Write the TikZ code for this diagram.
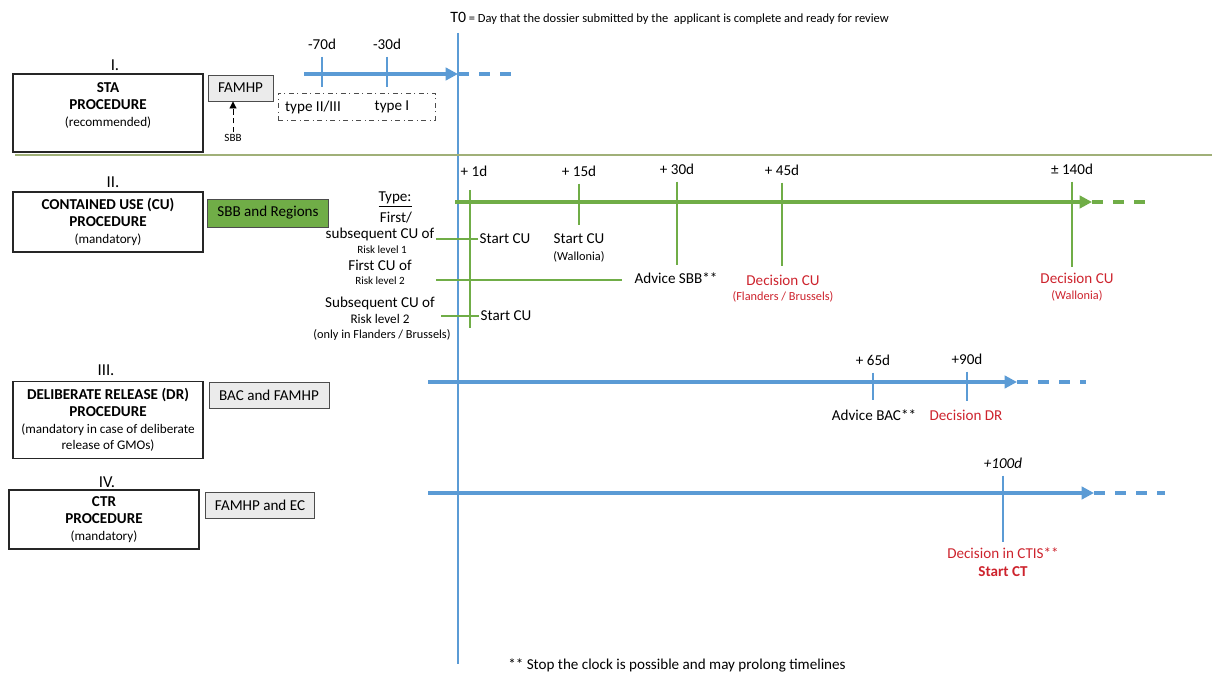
\documentclass[tikz,border=0pt]{standalone}
\usepackage{fontspec}
\setmainfont{Carlito}
\usetikzlibrary{arrows.meta}
\definecolor{lineblue}{RGB}{91,155,213}
\definecolor{cugreen}{RGB}{112,173,71}
\definecolor{decred}{RGB}{205,35,45}
\definecolor{sepgreen}{RGB}{160,176,120}
\begin{document}
\begin{tikzpicture}[x=0.02cm,y=-0.02cm,
  proc box/.style={draw=black!85,line width=0.6pt,align=center,minimum width=3.8cm,inner sep=1pt,font=\fontsize{8.6}{9.6}\selectfont},
  org box/.style={draw=black!70,line width=0.5pt,fill=black!8,minimum height=0.52cm,inner sep=0pt,font=\fontsize{8.6}{9.6}\selectfont},
  lbl/.style={inner sep=1pt,font=\fontsize{8.6}{10}\selectfont},
  small lbl/.style={inner sep=1pt,font=\fontsize{7}{8}\selectfont},
  tiny lbl/.style={inner sep=1pt,font=\fontsize{6.3}{7}\selectfont},
  num lbl/.style={inner sep=1pt,font=\fontsize{9.5}{10}\selectfont},
  red lbl/.style={text=decred},
  blue arrow/.style={lineblue,line width=2.3pt,-{Triangle[length=7pt,width=7pt]}},
  blue dash/.style={lineblue,line width=2.3pt,dash pattern=on 6pt off 6pt},
  green arrow/.style={cugreen,line width=2pt,-{Triangle[length=7pt,width=7pt]}},
  green dash/.style={cugreen,line width=2pt,dash pattern=on 6pt off 6pt},
  blue tick/.style={lineblue,line width=0.6pt,shorten <=3pt,shorten >=3pt},
  green tick/.style={cugreen,line width=0.6pt,shorten <=3pt,shorten >=3pt},
  green thin/.style={cugreen,line width=0.6pt}]

  \useasboundingbox (0,0) rectangle (1212,675);

  \node[anchor=west,inner sep=0pt,font=\fontsize{7.1}{8}\selectfont] (t0) at (450,18)
    {{\fontsize{9}{10}\selectfont T0} = Day that the dossier submitted by the\ \ applicant is complete and ready for review};
  \coordinate (t0top) at (458,33);
  \coordinate (t0bot) at (458,664);
  \draw[lineblue,line width=1.2pt] (t0top) -- (t0bot);

  \coordinate (sepL) at (15,155);
  \coordinate (sepR) at (1212,155);
  \draw[sepgreen,line width=0.8pt] (sepL) -- (sepR);

  % I. STA
  \node[num lbl] (numI) at (115,65) {I.};
  \node[proc box,minimum height=1.56cm] (sta) at (108,113)
    {\textbf{STA}\\\textbf{PROCEDURE}\\{\fontsize{7.5}{9.6}\selectfont(recommended)}\\\phantom{x}};
  \node[org box,minimum width=1.3cm] (famhp) at (240.5,88) {FAMHP};
  \node[tiny lbl] (sbb) at (233,138) {SBB};
  \draw[densely dashed,line width=0.5pt,-{Triangle[length=4pt,width=4pt]}] (sbb.north) -- (sbb.north |- famhp.south);

  \coordinate (staS) at (304,74);
  \coordinate (staE) at (458,74);
  \coordinate (staD) at (518,74);
  \draw[blue arrow] (staS) -- (staE);
  \draw[blue dash] (staE) -- (staD);

  \node[lbl] (m70) at (322,44) {-70d};
  \node[lbl] (m30) at (387,44) {-30d};
  \coordinate (m70b) at (322,87);
  \coordinate (m30b) at (387,87);
  \draw[blue tick,shorten >=0pt] (m70.south) -- (m70b);
  \draw[blue tick,shorten >=0pt] (m30.south) -- (m30b);

  \node[draw=black!70,dash dot,line width=0.5pt,minimum width=3.14cm,minimum height=0.54cm] (typebox) at (356.5,106.5) {};
  \node[lbl] (t23) at (313,107) {type II/III};
  \node[lbl] (t1) at (392,107) {type I};

  % II. CU
  \node[num lbl] (numII) at (113,182) {II.};
  \node[proc box,minimum height=1.2cm] (cu) at (108,222)
    {\textbf{CONTAINED USE (CU)}\\\textbf{PROCEDURE}\\{\fontsize{7.5}{9.6}\selectfont(mandatory)}};
  \node[org box,fill=cugreen,minimum width=2.42cm,minimum height=0.56cm] (sbbreg) at (268,213) {SBB and Regions};

  \node[lbl] (type) at (395,200) {\underline{Type:}};
  \node[lbl] (first) at (396,218) {First/};
  \node[lbl] (subs) at (380,234) {subsequent CU of};
  \node[tiny lbl] (rl1) at (382,250) {Risk level 1};
  \node[lbl] (fcu) at (380,265) {First CU of};
  \node[tiny lbl] (rl2a) at (380,281) {Risk level 2};
  \node[lbl] (scu) at (380,303) {Subsequent CU of};
  \node[inner sep=1pt,font=\fontsize{7.5}{8}\selectfont] (rl2b) at (380,319) {Risk level 2};
  \node[small lbl] (only) at (382,335) {(only in Flanders / Brussels)};

  \coordinate (cuS) at (455,202);
  \coordinate (cuE) at (1092,202);
  \coordinate (cuD) at (1155,202);
  \draw[green arrow] (cuS) -- (cuE);
  \draw[green dash] (cuE) -- (cuD);

  \coordinate (cuVt) at (470,190);
  \coordinate (cuVb) at (470,328);
  \draw[green thin] (cuVt) -- (cuVb);

  \node[lbl] (p1) at (474,171) {+ 1d};
  \node[lbl] (p15) at (579,171) {+ 15d};
  \node[lbl] (p30) at (677,169) {+ 30d};
  \node[lbl] (p45) at (782,170) {+ 45d};
  \node[lbl] (p140) at (1072,169) {± 140d};

  \node[lbl] (startA) at (505,239) {Start CU};
  \node[lbl] (startB) at (579,239) {Start CU};
  \node[small lbl] (wal) at (579,257) {(Wallonia)};
  \node[lbl] (advsbb) at (676,278) {Advice SBB**};
  \node[lbl,red lbl] (deccu) at (783,280) {Decision CU};
  \node[small lbl,red lbl] (flbr) at (783,297) {(Flanders / Brussels)};
  \node[lbl] (startC) at (506,316) {Start CU};
  \node[lbl,red lbl] (decw) at (1077,278) {Decision CU};
  \node[small lbl,red lbl] (walw) at (1077,296) {(Wallonia)};

  \coordinate (lnA) at (436,239);
  \coordinate (lnB) at (436,280);
  \coordinate (lnC) at (441,316);
  \draw[green thin] (lnA) -- (startA.west |- lnA);
  \draw[green thin,shorten >=6pt] (lnB) -- (advsbb.west |- lnB);
  \draw[green thin] (lnC) -- (startC.west |- lnC);

  \draw[green tick,shorten >=4pt] (p15.south) -- (p15.south |- startB.north);
  \draw[green tick] (p30.south) -- (p30.south |- advsbb.north);
  \draw[green tick,shorten >=4pt] (p45.south) -- (p45.south |- deccu.north);
  \draw[green tick,shorten >=2pt] (p140.south) -- (p140.south |- decw.north);

  % III. DR
  \node[num lbl] (numIII) at (106,370) {III.};
  \node[proc box,minimum height=1.54cm] (dr) at (108,420)
    {\textbf{DELIBERATE RELEASE (DR)}\\\textbf{PROCEDURE}\\{\fontsize{7.5}{9.6}\selectfont(mandatory in case of deliberate}\\{\fontsize{7.5}{9.6}\selectfont release of GMOs)}};
  \node[org box,minimum width=2.4cm] (bac) at (269,395) {BAC and FAMHP};

  \coordinate (drS) at (428,382);
  \coordinate (drE) at (1017,382);
  \coordinate (drD) at (1086,382);
  \draw[blue arrow] (drS) -- (drE);
  \draw[blue dash] (drE) -- (drD);

  \node[lbl] (p65) at (873,360) {+ 65d};
  \node[lbl] (p90) at (967,359) {+90d};
  \node[lbl] (advbac) at (874,415) {Advice BAC**};
  \node[lbl,red lbl] (decdr) at (966,415) {Decision DR};
  \draw[blue tick,shorten >=4pt] (p65.south) -- (p65.south |- advbac.north);
  \draw[blue tick,shorten >=4pt] (p90.south) -- (p90.south |- decdr.north);

  % IV. CTR
  \node[num lbl] (numIV) at (107,482) {IV.};
  \node[proc box,minimum height=1.18cm] (ctr) at (104,519.5)
    {\textbf{CTR}\\\textbf{PROCEDURE}\\{\fontsize{7.5}{9.6}\selectfont(mandatory)}};
  \node[org box,minimum width=2.18cm] (famec) at (260,505) {FAMHP and EC};

  \coordinate (ctS) at (428,493);
  \coordinate (ctE) at (1094,493);
  \coordinate (ctD) at (1165,493);
  \draw[blue arrow] (ctS) -- (ctE);
  \draw[blue dash] (ctE) -- (ctD);

  \node[lbl] (p100) at (1003,463) {\textit{+100d}};
  \node[lbl,red lbl,align=center] (ctis) at (1003,562) {Decision in CTIS**\\\textbf{Start CT}};
  \draw[blue tick,shorten >=2pt] (p100.south) -- (p100.south |- ctis.north);

  \node[lbl] (note) at (677,665) {** Stop the clock is possible and may prolong timelines};
\end{tikzpicture}
\end{document}
